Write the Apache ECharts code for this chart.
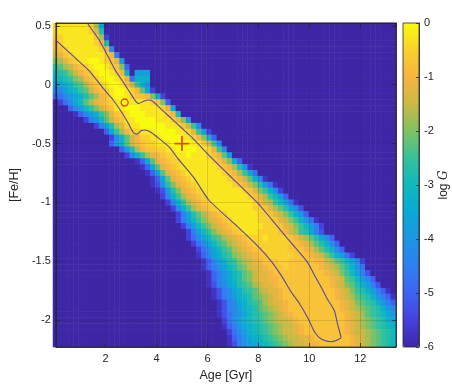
<!DOCTYPE html>
<html>
<head>
<meta charset="utf-8">
<script src="https://cdn.jsdelivr.net/npm/echarts/dist/echarts.min.js"></script>
<style>
  html, body { margin: 0; padding: 0; background: #fff; }
  #container { width: 452px; height: 389px; }
</style>
</head>
<body>
<div id="container"></div>
<script>
// cell centres of the likelihood grid
var ages = [0.15,0.35,0.55,0.75,0.95,1.15,1.35,1.55,1.75,1.95,2.15,2.35,2.55,2.75,2.95,3.15,3.35,3.55,3.75,3.95,
  4.15,4.35,4.55,4.75,4.95,5.15,5.35,5.55,5.75,5.95,6.15,6.35,6.55,6.75,6.95,7.15,7.35,7.55,7.75,7.95,
  8.15,8.35,8.55,8.75,8.95,9.15,9.35,9.55,9.75,9.95,10.15,10.35,10.55,10.75,10.95,11.15,11.35,11.55,11.75,11.95,
  12.15,12.35,12.55,12.75,12.95,13.15,13.35];
var fehs = [0.5,0.45,0.4,0.35,0.3,0.25,0.2,0.15,0.1,0.05,0,-0.05,-0.1,-0.15,-0.2,-0.25,-0.3,-0.35,-0.4,-0.45,
  -0.5,-0.55,-0.6,-0.65,-0.7,-0.75,-0.8,-0.85,-0.9,-0.95,-1,-1.05,-1.1,-1.15,-1.2,-1.25,-1.3,-1.35,-1.4,-1.45,
  -1.5,-1.55,-1.6,-1.65,-1.7,-1.75,-1.8,-1.85,-1.9,-1.95,-2,-2.05,-2.1,-2.15,-2.2];

// log G per row (top row = [Fe/H] 0.5), one letter per cell: A = -6 ... Y = 0 in steps of 0.25,
// a number repeats the next letter, the rest of a row is A
var logG = [
  'W6XWRK',
  'W6XWTN',
  'VW6XVRC',
  'UW6XWUN',
  'TVW6XWUH',
  'STVW6XWUG',
  'QRTVW2X2YXWVTI',
  'OPRSUVWX2YXWVQE',
  'MNOQSUVWX2YXWULA3J',
  'LMNOQRUVWX2YXWTF3L',
  'IKLMOPRUVWX2YXVSOLI',
  'GHJLMOPSUVWX2YXWUPKC',
  'EFHIKLNPRUVX2YXW2VUQLC',
  'ACFHKMPRTUVWX2Y4XWVQE',
  '3AEHJMOQSUVXX3Y4XWTK',
  '4ABEHJLOQTVWX3Y4XWUN',
  '6ACGIMPSUVXX4Y3XWUQJ',
  '8ACGKNRTWXX5Y3XVSOH',
  '10AEKORUWWXXX4Y2XWTOJC',
  '11ACHLPSUWWXX4Y2XWUQLE',
  '11AEILPSUVWWXXX4Y2XVSOH',
  '13AEJNRUVVWWXX4Y2XWTOH',
  '14ACHLORTUVWWXXYXXXWVTPJ',
  '16ABEKPTUVWW6XWVTQLE',
  '17ABEKPTUVW7XWVURNIB',
  '18ABEKPTUVW7XWVUROKF',
  '19ABEKPTUVW7XWVUSPLHB',
  '19ABDINQTUVW7XWVUSQNJFB',
  '20ABDINQTUVW8XWVTQOLHC',
  '21ACHLORTUVW8XWVTROMJE',
  '22ACHLORTUVW8XWUSROMJFB',
  '23ACHLORTUVW7X2WVTRPNKHD',
  '24ACGKNPRTUVW6X2WVTSQOLIE',
  '24ACGJMOQSTUVW5X3WVTSQOLIFB',
  '25ACGJMOQSTUVW5X3WVTSQOMJGC',
  '26ACGJMOQSTUVW3X4WVUSRONKGD',
  '26ACFHKMOPRSTUV3WX4WVUSRPNKHE',
  '27ACFHKMOPRSTUV7W2VUTRPNLHE',
  '28ACFHKMOPRSTU2V5W3VUTRPNLHE',
  '28ABEHJLNOQRSTU2V5W3VUTSQOLJFC',
  '29ABEHJLNOQRSTU3V2W5V2USRPOMKHC',
  '29ABEGIKMNPQSTTU3VW6VUTSRPNLIF',
  '30ABEGIKMNPQSTTU10VUTSQOMJGD',
  '30ABEGIKMNPQSTT2U10VUTSPOMJHE',
  '30ABDGHKLNOPRSTTU10VUTSQPNLJGD',
  '31ABDGHKLNOPRSTTU10VUTSQONLJGEB',
  '31ABDGHJLMNPQRSTU10VUTSRPONLIGEB',
  '32ABDGHKLNOPRSTTU10VUTSQPONLIGE',
  '32ABDGHJLMNPQRSTU10VUTSRQPONLIH',
  '32ABDFHIKMNOPQRSTU10VUTSRPONMKI',
  '33ACFHJLMNOPQRSSTU9VUTSRQPONLK',
  '33ABEGIKLMNOPQRSSTU8VUTSRQPONML',
  '34ACFHJLMNOPQRSSTU8VUTSSRQPONM',
  '34ABEGIKLMNOPQRSSTTU7VUTSRQPONM',
  '34ABDGIJKLMNOPQRSST2U6VUTSRQPONM'
];

// contour of the best region, down the left side and back up the right side
var contourAge = [0.05,0.7,1.35,1.87,2.3,2.65,2.9,3.1,3.25,3.4,3.55,3.75,4.0,4.5,4.85,5.5,6.05,7.2,7.97,8.5,
  8.95,9.28,9.61,9.93,10.2,10.39,10.6,10.85,11.05,11.24,11.11,10.98,10.7,10.46,10.2,9.93,9.55,9.15,8.5,7.95,
  7.0,6.15,5.4,5.0,4.5,4.1,3.85,3.69,3.5,3.3,3.15,3.0,2.7,2.39,2.1,1.75,1.28];
var contourFeh = [0.38,0.25,0.12,-0.02,-0.13,-0.24,-0.33,-0.41,-0.42,-0.39,-0.385,-0.4,-0.44,-0.53,-0.63,-0.8,-0.98,-1.21,-1.37,-1.5,
  -1.64,-1.76,-1.86,-1.98,-2.1,-2.15,-2.175,-2.185,-2.175,-2.15,-2.04,-1.92,-1.82,-1.72,-1.62,-1.51,-1.41,-1.31,-1.14,-1.0,
  -0.8,-0.62,-0.45,-0.37,-0.27,-0.19,-0.14,-0.13,-0.14,-0.16,-0.13,-0.08,0.02,0.12,0.24,0.38,0.525];

var circlePoint = [2.75, -0.15];
var plusPoint = [5.0, -0.5];

var parula = ['#3e27a6','#4541de','#3f62f2','#2f7ff0','#1c95e2','#0ba8d5','#10b8bd',
  '#35c19a','#80c262','#cbb944','#f6b440','#f9d12e','#f9fb0e'];

function expandRow(code) {
    var out = [];
    var re = /(\d*)([A-Y])/g, m;
    while ((m = re.exec(code)) !== null) {
        var n = m[1] ? parseInt(m[1], 10) : 1;
        for (var k = 0; k < n; k++) out.push(m[2]);
    }
    while (out.length < ages.length) out.push('A');
    return out;
}

var cells = [];
logG.forEach(function(code, j) {
    expandRow(code).forEach(function(ch, i) {
        cells.push([i, j, -6 + 0.25 * (ch.charCodeAt(0) - 65)]);
    });
});

var contourData = contourAge.map(function(a, i) { return [a, contourFeh[i]]; });

var ink = '#262626';
var font = 'Liberation Sans, Arial, sans-serif';
var plot = { left: 53, top: 23, width: 343, height: 324 };

function boxAxis(extra) {
    var axis = {
        type: 'value',
        gridIndex: 1,
        z: 5,
        axisLine: { show: true, onZero: false, lineStyle: { color: ink, width: 0.8 } },
        axisTick: { inside: true, length: 4, lineStyle: { color: ink, width: 0.8 } },
        axisLabel: { show: false },
        splitLine: { show: false }
    };
    for (var k in extra) axis[k] = extra[k];
    return axis;
}

var myChart = echarts.init(document.getElementById('container'), null, { renderer: 'canvas' });
myChart.setOption({
    animation: false,
    backgroundColor: '#fff',
    grid: [
        { left: plot.left, top: plot.top, width: plot.width, height: plot.height },
        { left: plot.left, top: plot.top, width: plot.width, height: plot.height,
          show: true, borderColor: ink, borderWidth: 0.8, backgroundColor: 'transparent', z: 10 },
        { left: 403, top: plot.top, width: 16, height: plot.height,
          show: true, borderColor: ink, borderWidth: 0.8, backgroundColor: 'transparent', z: 10 }
    ],
    xAxis: [
        { type: 'category', gridIndex: 0, data: ages, show: false },
        boxAxis({ min: 0.05, max: 13.4, splitNumber: 7, position: 'bottom',
          name: 'Age [Gyr]', nameLocation: 'middle', nameGap: 12,
          nameTextStyle: { color: ink, fontFamily: font, fontSize: 12.5 },
          axisLabel: { color: ink, fontFamily: font, fontSize: 11, margin: 6, showMinLabel: false, showMaxLabel: false },
          splitLine: { show: true, lineStyle: { color: 'rgba(38,38,38,0.15)', width: 1 } } }),
        boxAxis({ min: 0.05, max: 13.4, splitNumber: 7, position: 'top' }),
        { type: 'value', gridIndex: 2, min: 0, max: 1, show: false }
    ],
    yAxis: [
        { type: 'category', gridIndex: 0, data: fehs, inverse: true, show: false },
        boxAxis({ min: -2.23, max: 0.525, splitNumber: 5, position: 'left',
          name: '[Fe/H]', nameLocation: 'middle', nameGap: 21, nameRotate: 90,
          nameTextStyle: { color: ink, fontFamily: font, fontSize: 12.5 },
          axisLabel: { color: ink, fontFamily: font, fontSize: 11, margin: 5, showMinLabel: false, showMaxLabel: false },
          splitLine: { show: true, lineStyle: { color: 'rgba(38,38,38,0.15)', width: 1 } } }),
        boxAxis({ min: -2.23, max: 0.525, splitNumber: 5, position: 'right' }),
        { type: 'value', gridIndex: 2, min: -6, max: 0, interval: 1, position: 'right', z: 11,
          name: '{a|log }{b|G}', nameLocation: 'middle', nameGap: 10, nameRotate: 90,
          nameTextStyle: { color: ink, fontFamily: font, fontSize: 12,
              rich: { a: { color: ink, fontFamily: font, fontSize: 12 },
                      b: { color: ink, fontFamily: 'DejaVu Serif', fontStyle: 'italic', fontSize: 12 } } },
          axisLine: { show: true, onZero: false, lineStyle: { color: ink, width: 0.8 } },
          axisTick: { inside: true, length: 3, lineStyle: { color: ink, width: 0.8 } },
          axisLabel: { color: ink, fontFamily: font, fontSize: 11, margin: 5 },
          splitLine: { show: false } }
    ],
    visualMap: {
        type: 'continuous',
        seriesIndex: 0,
        min: -6,
        max: 0,
        calculable: false,
        hoverLink: false,
        orient: 'vertical',
        left: 403,
        top: plot.top,
        padding: 0,
        itemWidth: 16,
        itemHeight: plot.height,
        inRange: { color: parula }
    },
    series: [{
            type: 'heatmap',
            xAxisIndex: 0,
            yAxisIndex: 0,
            data: cells,
            progressive: 0,
            itemStyle: { borderWidth: 0 },
            emphasis: { disabled: true }
        }, {
            type: 'line',
            xAxisIndex: 1,
            yAxisIndex: 1,
            data: contourData,
            showSymbol: false,
            smooth: 0.2,
            z: 6,
            lineStyle: { color: '#5a47a3', width: 1.1 }
        }, {
            type: 'scatter',
            xAxisIndex: 1,
            yAxisIndex: 1,
            data: [circlePoint],
            symbol: 'circle',
            symbolSize: 7,
            z: 7,
            itemStyle: { color: 'transparent', borderColor: '#d62718', borderWidth: 1.5 }
        }, {
            type: 'scatter',
            xAxisIndex: 1,
            yAxisIndex: 1,
            data: [plusPoint],
            symbol: 'path://M-1,-0.12H1V0.12H-1Z M-0.12,-1H0.12V1H-0.12Z',
            symbolSize: 15,
            z: 7,
            itemStyle: { color: '#d62718' }
        }]
});
</script>
</body>
</html>
